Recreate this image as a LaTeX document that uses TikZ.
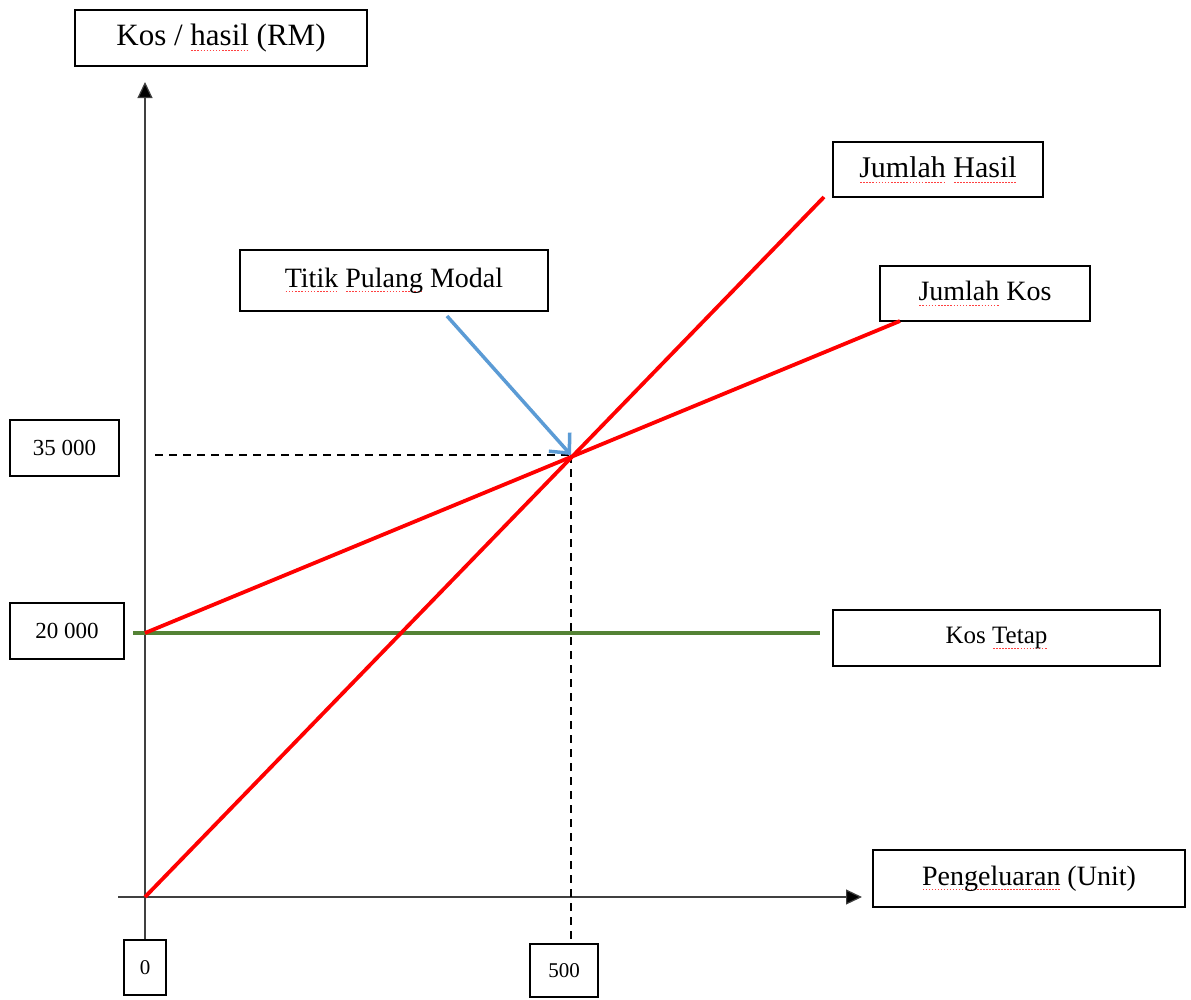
\documentclass[tikz,border=0pt]{standalone}
\usepackage{fontspec}
\setmainfont{Liberation Serif}
\usetikzlibrary{arrows.meta}
\definecolor{fixgreen}{RGB}{84,130,53}
\definecolor{arrowblue}{RGB}{91,155,213}
\newsavebox\sqbox
\newcommand\sqg[1]{\sbox\sqbox{#1}\rlap{\raisebox{-5pt}{\hbox to \wd\sqbox{\xleaders\hbox to 3pt{\hss\textcolor{red!75}{\rule{1.5pt}{0.8pt}}\hss}\hfill}}}\usebox\sqbox}
\newcommand\fs[1]{\fontsize{#1}{#1}\selectfont}
\tikzset{
  lbl/.style={draw=black, line width=2pt, inner sep=0pt, align=center, fill=white},
  axis/.style={draw=black!75, line width=1.2pt},
  axarrow/.style={axis, -{Triangle[length=16pt,width=15pt,fill=black]}},
  guide/.style={draw=black, line width=2pt, dash pattern=on 8pt off 6pt},
  costline/.style={draw=red, line width=3.8pt},
  fixline/.style={draw=fixgreen, line width=3.5pt},
  pointer/.style={draw=arrowblue, line width=3.5pt, -{Straight Barb[length=15pt,width=28pt]}}
}
\begin{document}
\begin{tikzpicture}[x=1pt,y=-1pt]
\useasboundingbox (0,0) rectangle (1191,999);
% label boxes
\node[lbl, minimum width=292pt, minimum height=56pt] (yl) at (221,38) {\fs{31}Kos / \sqg{hasil} (RM)};
\node[lbl, minimum width=210pt, minimum height=55pt] (jh) at (938,169.5) {\fs{30}\sqg{Jumlah} \sqg{Hasil}};
\node[lbl, minimum width=210pt, minimum height=55pt] (jk) at (985,293.5) {\fs{28}\sqg{Jumlah} Kos};
\node[lbl, minimum width=308pt, minimum height=61pt] (tpm) at (394,280.5) {\fs{28}\raisebox{4pt}{\sqg{Titik} \sqg{Pulang} Modal}};
\node[lbl, minimum width=327pt, minimum height=56pt] (kt) at (996.5,638) {\fs{25}Kos \sqg{Tetap}};
\node[lbl, minimum width=312pt, minimum height=57pt] (px) at (1029,878.5) {\fs{28}\sqg{Pengeluaran} (Unit)};
\node[lbl, minimum width=109pt, minimum height=56pt] (v35) at (64.5,448) {\fs{23}35 000};
\node[lbl, minimum width=114pt, minimum height=56pt] (v20) at (67,631) {\fs{23}20 000};
\node[lbl, minimum width=42pt, minimum height=55pt] (zero) at (145,967.5) {\fs{21}0};
\node[lbl, minimum width=68pt, minimum height=53pt] (v500) at (564,970.5) {\fs{21}500};
% coordinates
\coordinate (O) at (145,897);
\coordinate (ytip) at (145,82);
\coordinate (xs) at (118,897);
\coordinate (xtip) at (862,897);
\coordinate (F) at (145,633);
\coordinate (Fs) at (133,633);
\coordinate (Fe) at (820,633);
\coordinate (BE) at (571,455);
\coordinate (Hs) at (155,455);
\coordinate (Vb) at (571,944);
\coordinate (JKe) at (900,321);
\coordinate (JHe) at (824,197);
\coordinate (Ps) at (447,316);
% axes
\draw[axarrow] (zero.north) -- (ytip);
\draw[axarrow] (xs) -- (xtip);
% guides
\draw[guide] (Hs) -- (BE);
\draw[guide] (BE) -- (Vb);
% lines
\draw[fixline] (Fs) -- (Fe);
\draw[costline] (F) -- (JKe);
\draw[costline] (O) -- (JHe);
% pointer
\draw[pointer] (Ps) -- (BE);
\end{tikzpicture}
\end{document}
